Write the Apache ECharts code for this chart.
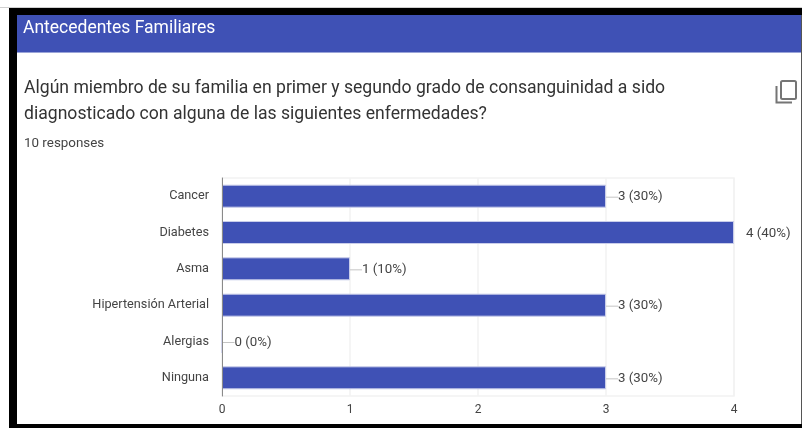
<!DOCTYPE html>
<html><head><meta charset="utf-8">
<style>html,body{margin:0;padding:0;background:#fff}#c{width:802px;height:428px}</style>
<script src="https://cdn.jsdelivr.net/npm/echarts@6/dist/echarts.min.js"></script>
</head><body><div id="c"></div>
<script>
const categories = ['Cancer','Diabetes','Asma','Hipertensión Arterial','Alergias','Ninguna'];
const counts = [3,4,1,3,0,3];
const percents = [30,40,10,30,0,30];
const ticks = [0,1,2,3,4];
const headerText = 'Antecedentes Familiares';
const questionLine1 = 'Algún miembro de su familia en primer y segundo grado de consanguinidad a sido';
const questionLine2 = 'diagnosticado con alguna de las siguientes enfermedades?';
const responsesText = '10 responses';
const BLUE = '#3f51b5';
const chart = echarts.init(document.getElementById('c'));
const txt = (x,y,text,size,fill)=>({type:'text',x,y,silent:true,style:{text,fill,font:size+'px Roboto, sans-serif',textVerticalAlign:'middle'}});
const rect = (x,y,w,h,fill)=>({type:'rect',silent:true,shape:{x,y,width:w,height:h},style:{fill}});
chart.setOption({
  animation:false,
  backgroundColor:'#fff',
  grid:{show:true,left:222,right:68,top:178,bottom:32,containLabel:false,borderColor:'#f2f2f2',borderWidth:1.5},
  xAxis:{type:'value',min:ticks[0],max:ticks[ticks.length-1],interval:1,
    axisLine:{show:false},axisTick:{show:false},
    axisLabel:{color:'#444',fontSize:12,fontFamily:'Roboto, sans-serif',margin:8,
      showMinLabel:true,showMaxLabel:true},
    splitLine:{show:true,lineStyle:{color:'#f2f2f2',width:1.5}}},
  yAxis:{type:'category',inverse:true,data:categories,z:3,
    axisLine:{show:true,onZero:false,lineStyle:{color:'#8a8a8a',width:1}},
    axisTick:{show:false},
    axisLabel:{color:'#444',fontSize:12.7,fontFamily:'Roboto, sans-serif',margin:13,padding:[2,0,0,0]}},
  series:[{type:'bar',barWidth:23,
    data:counts.map((v,i)=>({value:v,
      label:{formatter:'{'+(v===4?'n':'l')+'|}{t|'+v+' ('+percents[i]+'%)}'}})),
    itemStyle:{color:BLUE,borderColor:'#c9cdea',borderWidth:1},
    label:{show:true,position:'right',distance:0,offset:[0,1],
      rich:{l:{width:12,height:1,backgroundColor:'#c4c4c4'},
        n:{width:12,height:1},
        t:{color:'#444',fontSize:13.3,fontFamily:'Roboto, sans-serif'}}}}],
  graphic:[
    rect(0,7,802,1,'#d0d0d0'),
    rect(9,8,793,7,'#000'),
    rect(9,8,8,420,'#000'),
    rect(9,424,793,4,'#000'),
    rect(801,15,1,409,'#555'),
    rect(17,15,784,37,BLUE),
    rect(17,52,784,1,'#9aa4d8'),
    txt(23,29,headerText,17.5,'#fff'),
    txt(24,89,questionLine1,17.6,'#333'),
    txt(24,115,questionLine2,17.6,'#333'),
    txt(24,144,responsesText,13.4,'#444'),
    {type:'rect',silent:true,shape:{x:781,y:81,width:15,height:18,r:1.5},style:{fill:'none',stroke:'#757575',lineWidth:2}},
    {type:'polyline',silent:true,shape:{points:[[776.5,86],[776.5,102.5],[792,102.5]]},style:{fill:'none',stroke:'#757575',lineWidth:2}}
  ]
});
</script></body></html>
